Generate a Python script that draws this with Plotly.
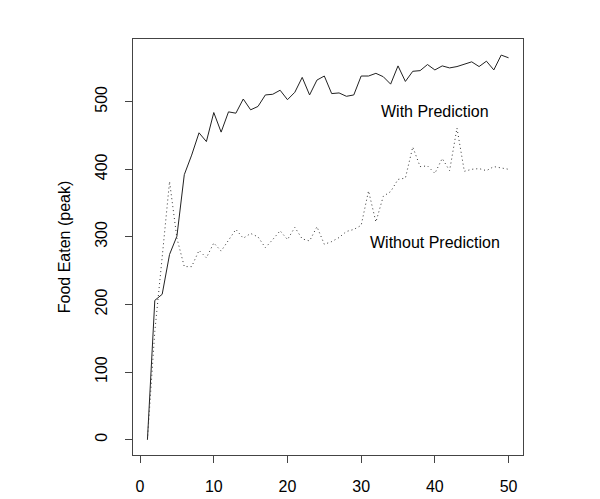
import plotly.graph_objects as go

trials = list(range(1, 51))
with_prediction = [0, 206, 215, 274, 301, 392, 421, 454, 441, 484,
                   455, 485, 483, 504, 488, 493, 510, 511, 517, 503,
                   514, 536, 510, 532, 538, 512, 513, 508, 510, 538,
                   538, 542, 537, 526, 553, 530, 545, 546, 555, 547,
                   553, 550, 552, 556, 559, 552, 560, 547, 569, 565]
without_prediction = [0, 160, 270, 382, 298, 256, 256, 280, 269, 291,
                      279, 296, 311, 298, 305, 300, 284, 296, 309, 296,
                      314, 297, 294, 315, 289, 293, 299, 308, 311, 317,
                      368, 322, 360, 367, 385, 387, 433, 404, 405, 394,
                      416, 398, 461, 397, 400, 401, 398, 404, 402, 400]
x_ticks = [0, 10, 20, 30, 40, 50]
y_ticks = [0, 100, 200, 300, 400, 500]
label_with = "With Prediction"
label_without = "Without Prediction"
y_title = "Food Eaten (peak)"

FONT = "Liberation Sans, Arial, sans-serif"

fig = go.Figure()
fig.add_trace(go.Scatter(x=trials, y=with_prediction, mode="lines",
                         line=dict(color="#222222", width=1), showlegend=False))
fig.add_trace(go.Scatter(x=trials, y=without_prediction, mode="lines",
                         line=dict(color="#333333", width=1, dash="1px,3px"), showlegend=False))

fig.add_annotation(x=40, y=485, text=label_with, showarrow=False,
                   font=dict(family=FONT, size=16, color="black"))
fig.add_annotation(x=40, y=291, text=label_without, showarrow=False,
                   font=dict(family=FONT, size=16, color="black"))

ymin, ymax = 0, 570
xmin, xmax = 1, 50
ypad = (ymax - ymin) * 0.04
xpad = (xmax - xmin) * 0.04

# page body has an 8px default margin, so the figure is slightly smaller
fig.update_layout(
    width=592, height=491,
    margin=dict(l=125, r=77, t=31, b=44),
    plot_bgcolor="white", paper_bgcolor="white",
    font=dict(family=FONT, size=16, color="black"),
    xaxis=dict(range=[xmin - xpad, xmax + xpad], tickmode="array", tickvals=x_ticks,
               ticktext=[str(v) for v in x_ticks], automargin=False,
               showgrid=False, zeroline=False, showline=True, linecolor="#444444",
               linewidth=1, mirror=True, ticks="outside", ticklen=7, tickcolor="#444444",
               ticklabelstandoff=10, tickfont=dict(size=16)),
    yaxis=dict(range=[ymin - ypad, ymax + ypad], tickmode="array", tickvals=y_ticks,
               ticktext=[str(v) for v in y_ticks], automargin=False,
               showgrid=False, zeroline=False, showline=True, linecolor="#444444",
               linewidth=1, mirror=True, ticks="outside", ticklen=7, tickcolor="#444444",
               tickangle=-90, ticklabelstandoff=12, tickfont=dict(size=16),
               title=dict(text=y_title, font=dict(size=16), standoff=17)),
)

fig.write_html("out.html")
